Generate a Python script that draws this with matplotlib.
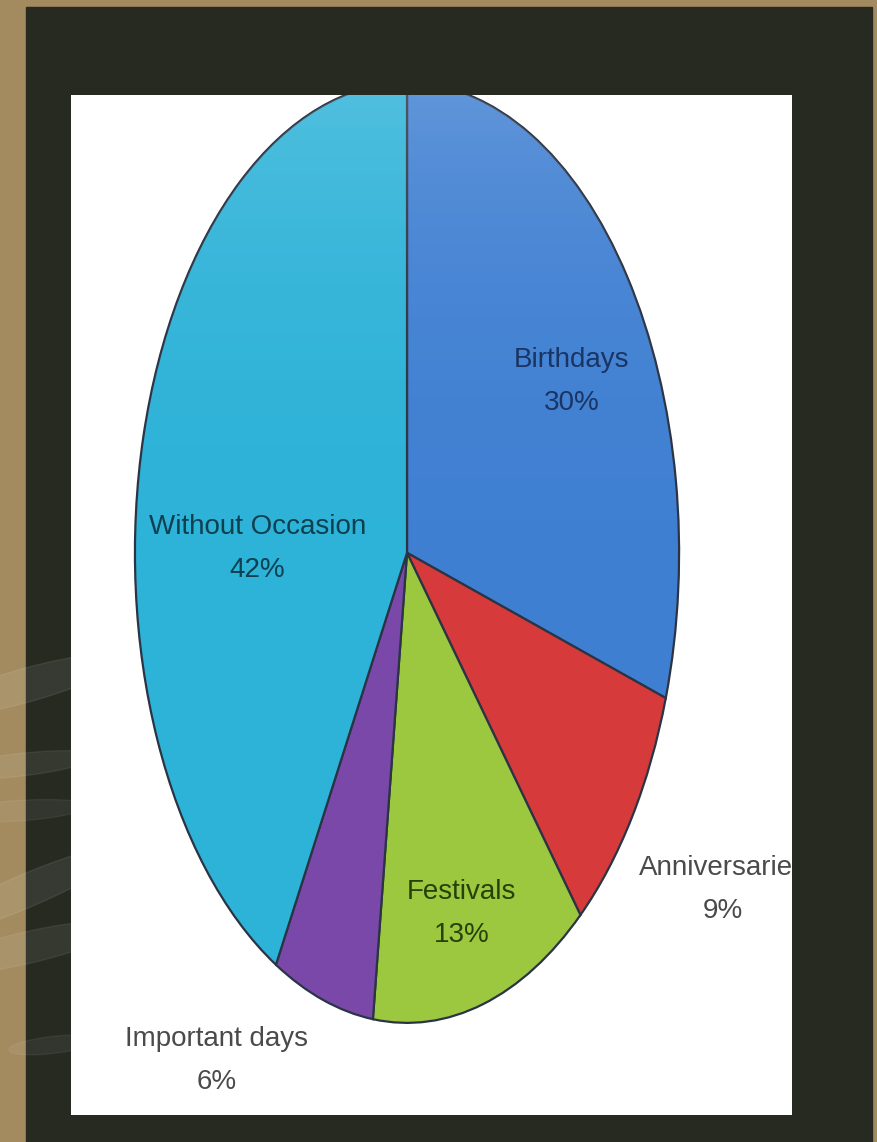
"""Gift occasions pie, shown on a dark slide with a tan frame."""
import matplotlib
matplotlib.use('Agg')
import matplotlib.pyplot as plt
import numpy as np
from matplotlib.patches import Rectangle, Ellipse, Circle

categories = ['Birthdays', 'Anniversaries', 'Festivals', 'Important days', 'Without Occasion']
shares = [30, 9, 13, 6, 42]
slice_colors = ['#3f7fd2', '#d63a3b', '#9cc840', '#7a48a8', '#2db2d8']

# label placement (data coords of the stretched pie) and colours
label_xy = [(0.605, 0.364), (1.16, -0.717), (0.20, -0.768), (-0.70, -1.081), (-0.55, 0.009)]
label_col = ['#1a3563', '#4a4a4a', '#25420a', '#4a4a4a', '#0d4050']

plt.rcParams['font.family'] = ['Liberation Sans', 'DejaVu Sans']

W, H = 877, 1142
fig = plt.figure(figsize=(W / 100, H / 100), dpi=100, facecolor='#a38b5f')

# dark slide area
fig.patches.append(Rectangle((26 / W, 0), (872 - 26) / W, (H - 7) / H,
                             transform=fig.transFigure, color='#272a21', zorder=0))
# faint leaf swirls on the left
for (cx, cy, w, h, ang, a) in [(0.03, 0.40, 0.22, 0.030, 12, 0.08),
                               (0.02, 0.33, 0.18, 0.020, 5, 0.07),
                               (0.02, 0.29, 0.16, 0.018, 3, 0.06),
                               (0.03, 0.22, 0.24, 0.030, 18, 0.08),
                               (0.03, 0.17, 0.22, 0.028, 10, 0.07),
                               (0.06, 0.085, 0.10, 0.015, 5, 0.06)]:
    fig.patches.append(Ellipse((cx, cy), w, h, angle=ang, transform=fig.transFigure,
                               color='white', alpha=a, zorder=0.5))

# white panel holding the chart
ax = fig.add_axes([71 / W, 27 / H, 721 / W, 1020 / H])
ax.set_zorder(3)
wedges, _ = ax.pie(shares, colors=slice_colors, startangle=90, counterclock=False,
                   wedgeprops=dict(edgecolor='#2b3444', linewidth=1.6))
for w in wedges:
    w.set_clip_on(True)
ax.set_frame_on(True)
ax.set_facecolor('white')
for s in ax.spines.values():
    s.set_visible(False)
ax.set_xticks([]); ax.set_yticks([])
ax.set_aspect('auto')

# soft sheen near the top of the pie
grad = np.linspace(0, 1, 256) ** 5
sheen = np.zeros((256, 1, 4)); sheen[..., :3] = 1.0; sheen[:, 0, 3] = grad * 0.18
im = ax.imshow(sheen, extent=(-1, 1, -1, 1), origin='lower', aspect='auto',
               interpolation='bilinear', zorder=2)
im.set_clip_path(Circle((0, 0), 1, transform=ax.transData))
ax.set_xlim(-1.235, 1.415)
ax.set_ylim(-1.196, 0.974)

for name, val, (x, y), c in zip(categories, shares, label_xy, label_col):
    ax.text(x, y, f'{name}\n{val}%', ha='center', va='center', fontsize=20,
            color=c, linespacing=1.85, clip_on=True, zorder=4)

fig.savefig('out.png', dpi=100, facecolor=fig.get_facecolor())
